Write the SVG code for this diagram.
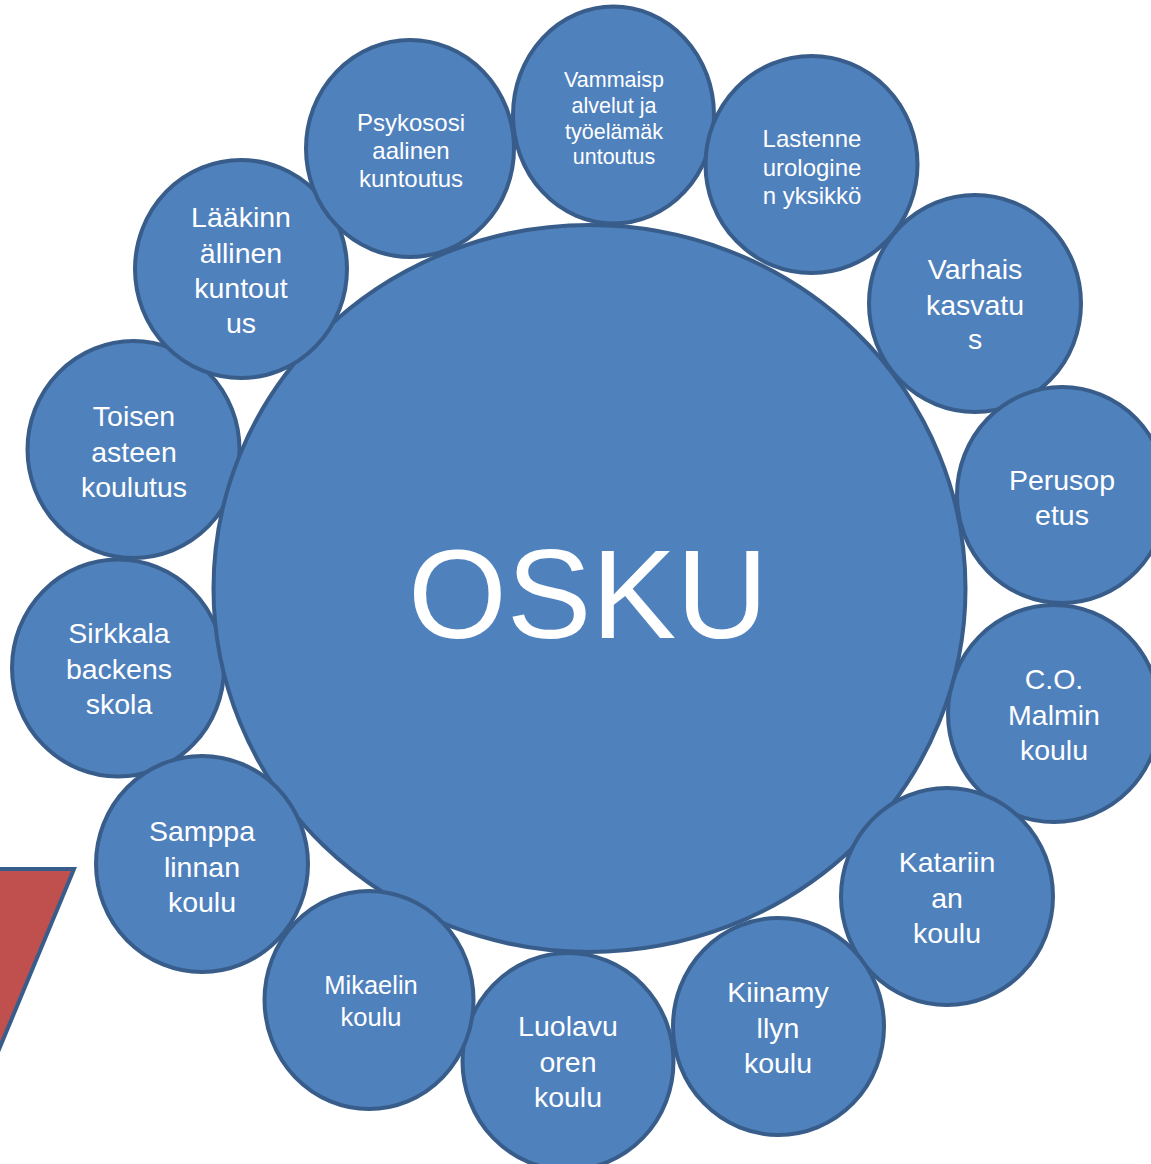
<svg xmlns="http://www.w3.org/2000/svg" width="1151" height="1164" viewBox="0 0 1151 1164">
<style>
.c{fill:#4F81BD;stroke:#385D8A;stroke-width:4}
.t{fill:#FFFFFF;font-family:"Liberation Sans",Arial,sans-serif;text-anchor:middle}
.s21{font-size:21.5px}.s24{font-size:24px}.s28{font-size:28.5px}
</style>
<rect width="1151" height="1164" fill="#FFFFFF"/>
<g id="arrow"><polygon points="-10,869 74,869 -10,1071" fill="#C0504D" stroke="#385D8A" stroke-width="4" stroke-linejoin="miter"/></g>
<g id="connectors"></g>
<g id="n-toisen"><ellipse class="c" cx="133.5" cy="449.5" rx="106" ry="108.5"/><text class="t s28"><tspan x="134" y="426">Toisen</tspan><tspan x="134" y="461.5">asteen</tspan><tspan x="134" y="497">koulutus</tspan></text></g>
<g id="n-sirkkala"><ellipse class="c" cx="118" cy="668" rx="106" ry="108.5"/><text class="t s28"><tspan x="119" y="643">Sirkkala</tspan><tspan x="119" y="678.5">backens</tspan><tspan x="119" y="714">skola</tspan></text></g>
<g id="n-malmin"><ellipse class="c" cx="1054" cy="713.5" rx="106" ry="108.5"/><text class="t s28"><tspan x="1054" y="689">C.O.</tspan><tspan x="1054" y="724.5">Malmin</tspan><tspan x="1054" y="760">koulu</tspan></text></g>
<g id="n-osku"><ellipse class="c" cx="589.5" cy="588.5" rx="376" ry="363.5"/><text class="t" x="588" y="638" style="font-size:127px">OSKU</text></g>
<g id="n-laakinnallinen"><ellipse class="c" cx="241" cy="269" rx="106" ry="109"/><text class="t s28"><tspan x="241" y="227">Lääkinn</tspan><tspan x="241" y="262.5">ällinen</tspan><tspan x="241" y="298">kuntout</tspan><tspan x="241" y="333">us</tspan></text></g>
<g id="n-psykososiaalinen"><ellipse class="c" cx="410" cy="148.5" rx="104" ry="108.5"/><text class="t s24"><tspan x="411" y="131">Psykososi</tspan><tspan x="411" y="159">aalinen</tspan><tspan x="411" y="187">kuntoutus</tspan></text></g>
<g id="n-vammaispalvelut"><ellipse class="c" cx="613.5" cy="115" rx="100.5" ry="108.5"/><text class="t s21"><tspan x="614" y="87">Vammaisp</tspan><tspan x="614" y="113">alvelut ja</tspan><tspan x="614" y="138.5">työelämäk</tspan><tspan x="614" y="164">untoutus</tspan></text></g>
<g id="n-lastenne"><ellipse class="c" cx="811.5" cy="164.5" rx="106" ry="108.5"/><text class="t s24"><tspan x="812" y="147">Lastenne</tspan><tspan x="812" y="175.5">urologine</tspan><tspan x="812" y="204">n yksikkö</tspan></text></g>
<g id="n-varhaiskasvatus"><ellipse class="c" cx="975" cy="303.5" rx="106" ry="108.5"/><text class="t s28"><tspan x="975" y="279">Varhais</tspan><tspan x="975" y="314.5">kasvatu</tspan><tspan x="975" y="349">s</tspan></text></g>
<g id="n-perusopetus"><ellipse class="c" cx="1062" cy="495" rx="105" ry="108"/><text class="t s28"><tspan x="1062" y="490">Perusop</tspan><tspan x="1062" y="524.5">etus</tspan></text></g>
<g id="n-katariinan"><ellipse class="c" cx="947" cy="896.5" rx="106" ry="108.5"/><text class="t s28"><tspan x="947" y="872">Katariin</tspan><tspan x="947" y="907.5">an</tspan><tspan x="947" y="943">koulu</tspan></text></g>
<g id="n-kiinamyllyn"><ellipse class="c" cx="778.5" cy="1026.5" rx="105.5" ry="108.5"/><text class="t s28"><tspan x="778" y="1002">Kiinamy</tspan><tspan x="778" y="1037.5">llyn</tspan><tspan x="778" y="1073">koulu</tspan></text></g>
<g id="n-luolavuoren"><ellipse class="c" cx="568" cy="1061.5" rx="105.5" ry="108.5"/><text class="t s28"><tspan x="568" y="1036">Luolavu</tspan><tspan x="568" y="1071.5">oren</tspan><tspan x="568" y="1107">koulu</tspan></text></g>
<g id="n-mikaelin"><ellipse class="c" cx="369" cy="1000" rx="104.5" ry="109"/><text class="t" style="font-size:25.5px"><tspan x="371" y="994">Mikaelin</tspan><tspan x="371" y="1026">koulu</tspan></text></g>
<g id="n-samppalinnan"><ellipse class="c" cx="202" cy="864" rx="106" ry="108"/><text class="t s28"><tspan x="202" y="841">Samppa</tspan><tspan x="202" y="876.5">linnan</tspan><tspan x="202" y="912">koulu</tspan></text></g>
</svg>
